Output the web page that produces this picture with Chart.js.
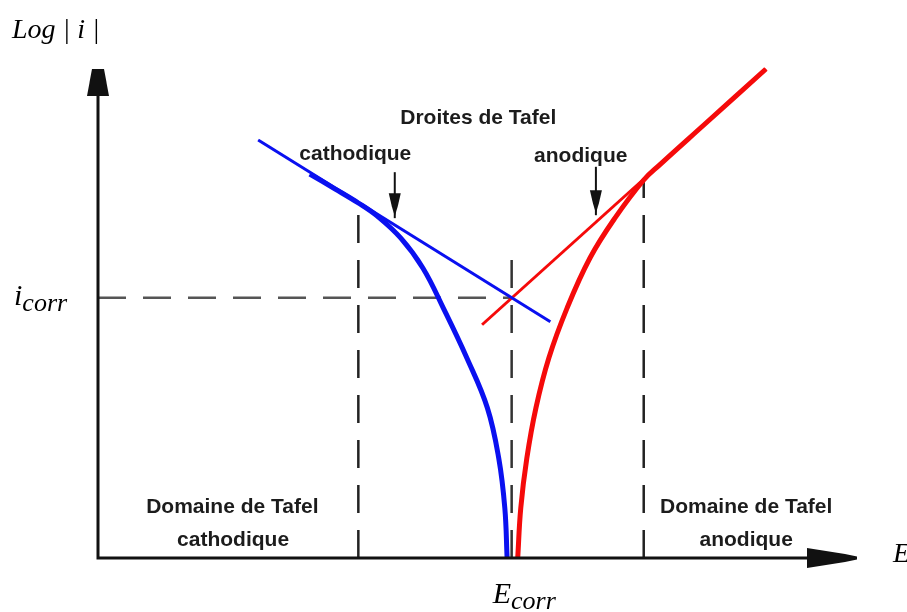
<!DOCTYPE html>
<html>
<head>
<meta charset="utf-8">
<script src="https://cdn.jsdelivr.net/npm/chart.js@4/dist/chart.umd.min.js"></script>
<style>
  html, body { margin: 0; padding: 0; background: #fff; }
  #wrap { width: 907px; height: 612px; }
</style>
</head>
<body>
<div id="wrap"><canvas id="chartTafel" width="907" height="612"></canvas></div>
<script>
// ── Data (E and log|i| in arbitrary units, 0–100) ─────────────
const E_CORR = 54.5;
const I_CORR = 53.2;

// cathodic branch (blue) and its Tafel line
const cathE    = [27.9, 31.2, 34.3, 36.8, 39.9, 42.8, 45.5, 48.6, 51.3, 52.8, 53.6, 53.9];
const cathLogI = [78.5, 75.5, 72.6, 69.9, 65.4, 59.3, 51.1, 40.9, 30.7, 20.4, 10.2,  0.0];
const cathTafelE    = [21.1, 59.6];
const cathTafelLogI = [85.5, 48.3];

// anodic branch (red) and its Tafel line
const anodE    = [55.3, 55.7, 56.5, 57.7, 59.4, 61.8, 64.8, 68.1, 71.9, 74.0, 80.0, 88.0];
const anodLogI = [ 0.0, 10.2, 20.4, 30.7, 40.9, 51.1, 61.3, 69.5, 77.3, 80.4, 88.8, 100.0];
const anodTafelE    = [50.6, 88.0];
const anodTafelLogI = [47.7, 100.0];

// limits of the Tafel domains
const domainE    = [34.3, 71.9];
const domainTop  = [72.8, 77.7];

// pointer arrows under "cathodique" / "anodique"
const pointerE    = [39.1, 65.6];
const pointerTop  = [78.9, 80.0];
const pointerTip  = [69.5, 70.1];

// bold annotations
const noteText = ['Droites de Tafel', 'cathodique', 'anodique',
                  'Domaine de Tafel', 'cathodique', 'Domaine de Tafel', 'anodique'];
const noteE    = [50.1, 33.9, 63.6, 17.7, 17.8, 85.4, 85.4];
const noteLogI = [88.8, 81.4, 81.0,  9.2,  2.5,  9.2,  2.5];

const toPts = (xs, ys) => xs.map((x, i) => ({ x, y: ys[i] }));

const DASH = [28, 17];
const MATH = 'italic {s}px "Liberation Serif", "DejaVu Serif", serif';
const mathFont = s => MATH.replace('{s}', s);

// ── Axes, arrows and labels ───────────────────
const decorPlugin = {
  id: 'decor',
  afterDatasetsDraw(chart) {
    const { ctx, chartArea: a, scales: { x: sx, y: sy } } = chart;
    ctx.save();

    // axes
    ctx.strokeStyle = '#111';
    ctx.fillStyle = '#111';
    ctx.lineWidth = 3;
    ctx.beginPath();
    ctx.moveTo(a.left, a.top + 26);
    ctx.lineTo(a.left, a.bottom);
    ctx.lineTo(a.right - 50, a.bottom);
    ctx.stroke();

    // y arrowhead
    ctx.beginPath();
    ctx.moveTo(a.left - 6, a.top);
    ctx.lineTo(a.left + 6, a.top);
    ctx.lineTo(a.left + 11, a.top + 27);
    ctx.lineTo(a.left - 11, a.top + 27);
    ctx.closePath();
    ctx.fill();

    // x arrowhead
    ctx.beginPath();
    ctx.moveTo(a.right - 50, a.bottom - 10);
    ctx.lineTo(a.right - 12, a.bottom - 4);
    ctx.lineTo(a.right, a.bottom - 1.5);
    ctx.lineTo(a.right, a.bottom + 1.5);
    ctx.lineTo(a.right - 12, a.bottom + 4);
    ctx.lineTo(a.right - 50, a.bottom + 10);
    ctx.closePath();
    ctx.fill();

    // pointer arrows
    ctx.lineWidth = 2;
    pointerE.forEach((e, i) => {
      const px = sx.getPixelForValue(e);
      const top = sy.getPixelForValue(pointerTop[i]);
      const tip = sy.getPixelForValue(pointerTip[i]);
      ctx.beginPath();
      ctx.moveTo(px, top);
      ctx.lineTo(px, tip);
      ctx.stroke();
      ctx.beginPath();
      ctx.moveTo(px - 6, tip - 25);
      ctx.lineTo(px + 6, tip - 25);
      ctx.lineTo(px + 3, tip - 12);
      ctx.lineTo(px, tip - 2);
      ctx.lineTo(px - 3, tip - 12);
      ctx.closePath();
      ctx.fill();
    });

    // bold notes
    ctx.fillStyle = '#1c1c1c';
    ctx.font = 'bold 21px "Liberation Sans", Arial, sans-serif';
    ctx.textAlign = 'center';
    ctx.textBaseline = 'alphabetic';
    noteText.forEach((t, i) => {
      ctx.fillText(t, sx.getPixelForValue(noteE[i]), sy.getPixelForValue(noteLogI[i]));
    });

    // math labels
    ctx.fillStyle = '#000';
    ctx.textAlign = 'left';
    ctx.font = mathFont(28);
    ctx.fillText('Log | i |', a.left - 86, a.top - 31);

    const sub = (main, s, x, y, big, small, drop) => {
      ctx.font = mathFont(big);
      ctx.fillText(main, x, y);
      const w = ctx.measureText(main).width;
      ctx.font = mathFont(small);
      ctx.fillText(s, x + w, y + drop);
    };
    sub('i', 'corr', a.left - 84, sy.getPixelForValue(I_CORR) + 7, 30, 26, 6);
    sub('E', 'corr', sx.getPixelForValue(E_CORR) - 19, a.bottom + 45, 30, 26, 6);

    ctx.font = mathFont(28);
    ctx.fillText('E', a.right + 36, a.bottom + 4);
    ctx.restore();
  },
};

// ── Tafel plot (line chart on linear axes) ────
const guide = (pts, color) => ({
  data: pts,
  borderColor: color,
  borderWidth: 2.5,
  borderDash: DASH,
  pointRadius: 0,
  tension: 0,
});

new Chart(document.getElementById('chartTafel'), {
  type: 'line',
  data: {
    datasets: [
      { data: toPts(cathE, cathLogI), borderColor: '#0a10f0', borderWidth: 5, tension: 0.4, pointRadius: 0, clip: false },
      { data: toPts(anodE, anodLogI), borderColor: '#f50a0a', borderWidth: 5, tension: 0.4, pointRadius: 0, clip: false },
      { data: toPts(cathTafelE, cathTafelLogI), borderColor: '#0a10f0', borderWidth: 3, pointRadius: 0, clip: false },
      { data: toPts(anodTafelE, anodTafelLogI), borderColor: '#f50a0a', borderWidth: 3, pointRadius: 0, clip: false },
      guide([{ x: 0, y: I_CORR }, { x: E_CORR, y: I_CORR }], '#555'),
      guide([{ x: E_CORR, y: 0 }, { x: E_CORR, y: I_CORR + 8 }], '#333'),
      guide([{ x: domainE[0], y: 0 }, { x: domainE[0], y: domainTop[0] }], '#222'),
      guide([{ x: domainE[1], y: 0 }, { x: domainE[1], y: domainTop[1] }], '#222'),
    ],
  },
  options: {
    responsive: false,
    animation: false,
    layout: { padding: { left: 98, right: 50, top: 69, bottom: 54 } },
    plugins: { legend: { display: false }, tooltip: { enabled: false } },
    scales: {
      x: { type: 'linear', min: 0, max: 100, display: false },
      y: { type: 'linear', min: 0, max: 100, display: false },
    },
  },
  plugins: [decorPlugin],
});
</script>
</body>
</html>
